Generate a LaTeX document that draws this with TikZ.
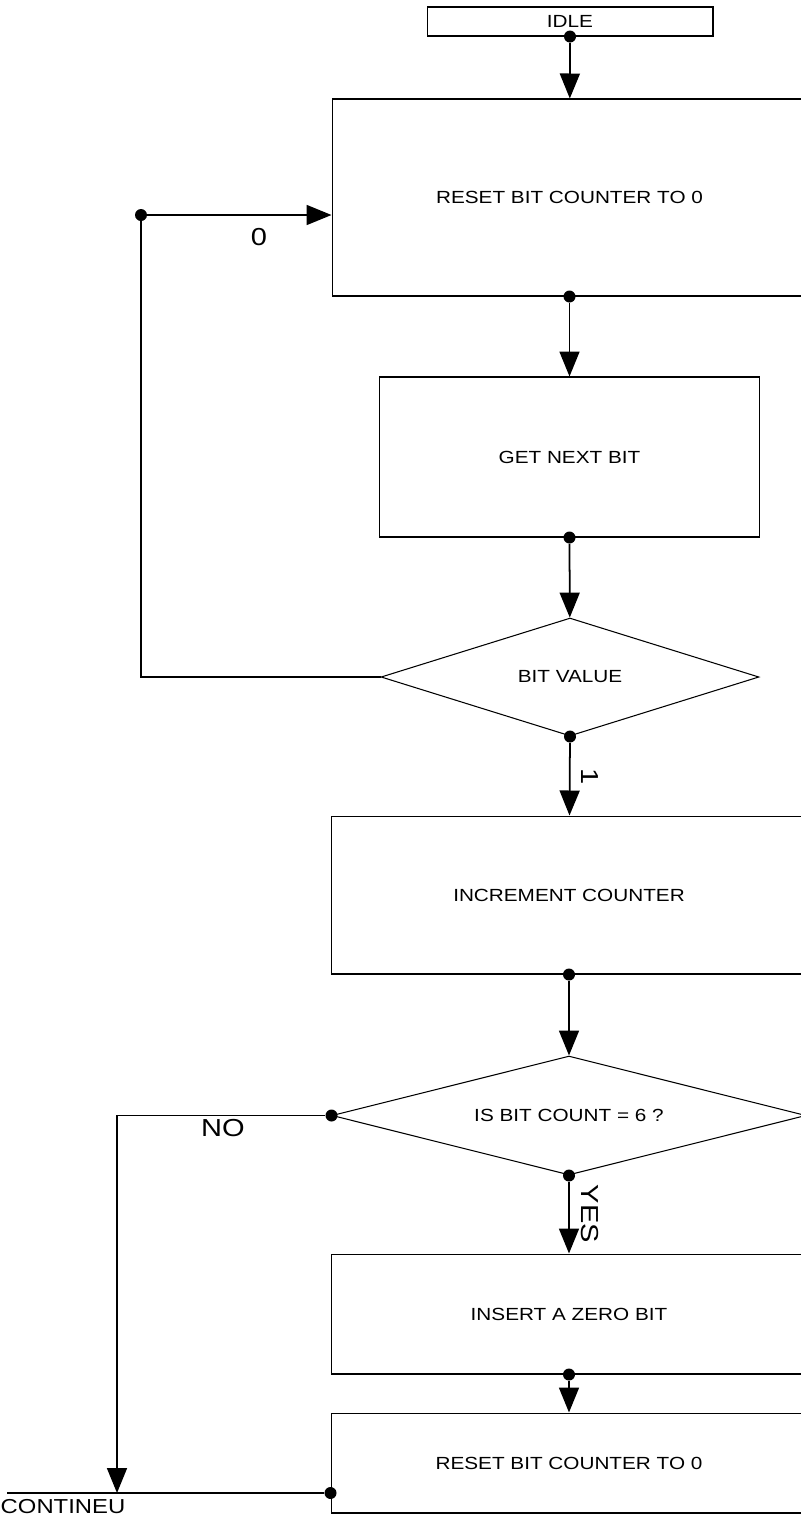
\documentclass[tikz,border=0pt]{standalone}
\usepackage{fontspec}
\setmainfont{Liberation Sans}[FakeStretch=1.18]
\usetikzlibrary{shapes.geometric,arrows.meta}

\begin{document}
\begin{tikzpicture}[x=0.02cm, y=-0.02cm,
  box/.style={shape=rectangle, draw, line width=0.6pt, font=\fontsize{10}{12}\selectfont},
  decision/.style={shape=diamond, draw, line width=0.6pt, inner sep=0pt, aspect=3.5, font=\fontsize{10}{12}\selectfont},
  joint/.style={shape=circle, fill, inner sep=0pt, minimum size=0.24cm},
  flow/.style={-{Triangle[length=5mm, width=4mm]}, line width=1pt},
  tag/.style={font=\fontsize{14}{16}\selectfont}]
\useasboundingbox (0,0) rectangle (801,1522);

\node[box, minimum width=5.72cm, minimum height=0.58cm] (idle) at (570, 21.5) {IDLE};
\node[box, minimum width=9.5cm, minimum height=3.94cm] (reset) at (569.5, 197.5) {RESET BIT COUNTER TO 0};
\node[box, minimum width=7.62cm, minimum height=3.2cm] (getbit) at (569.5, 457) {GET NEXT BIT};
\node[decision, minimum width=7.56cm, minimum height=2.36cm] (bitval) at (570, 677) {BIT VALUE};
\node[box, minimum width=9.52cm, minimum height=3.16cm] (incr) at (569, 895) {INCREMENT COUNTER};
\node[decision, minimum width=9.48cm, minimum height=2.38cm] (count6) at (569, 1115.5) {IS BIT COUNT = 6 ?};
\node[box, minimum width=9.52cm, minimum height=2.4cm] (insert) at (569, 1314) {INSERT A ZERO BIT};
\node[box, minimum width=9.52cm, minimum height=2cm] (reset2) at (569, 1463) {RESET BIT COUNTER TO 0};

% dots on the flow
\node[joint] (j1) at (idle.south) {};
\node[joint] (j2) at (reset.south) {};
\node[joint] (j3) at (getbit.south) {};
\node[joint] (j4) at (bitval.south) {};
\node[joint] (j5) at (incr.south) {};
\node[joint] (j6) at (count6.south) {};
\node[joint] (j7) at (insert.south) {};
\node[joint] (j8) at ([yshift=-0.6cm]reset2.west) {};
\node[joint] (nojoint) at (count6.west) {};
\node[joint] (back) at (141, 215) {};
\coordinate (contin) at (117, 1493);
\coordinate (contend) at (7, 1493);

\draw[flow] (j1) -- (reset);
\draw[flow] (j2) -- (getbit);
\draw[flow] (j3) -- (bitval);
\draw[flow] (j4) -- (incr);
\draw[flow] (j5) -- (count6);
\draw[flow] (j6) -- (insert);
\draw[flow] (j7) -- (reset2);

\draw[line width=1pt] (bitval.west) -| (back);
\draw[flow] (back) -- (back -| reset.west);
\draw[flow] (nojoint) -| (contin);
\draw[line width=1pt] (j8) -- (contend);

\node[tag] (zero) at (259, 237) {0};
\node[tag, rotate=-90] (one) at (590, 777) {1};
\node[tag] (no) at (223, 1128) {NO};
\node[tag, rotate=-90] (yes) at (590, 1214) {YES};
\node[font=\fontsize{11.5}{14}\selectfont] (contineu) at (63, 1507) {CONTINEU};
\end{tikzpicture}
\end{document}
